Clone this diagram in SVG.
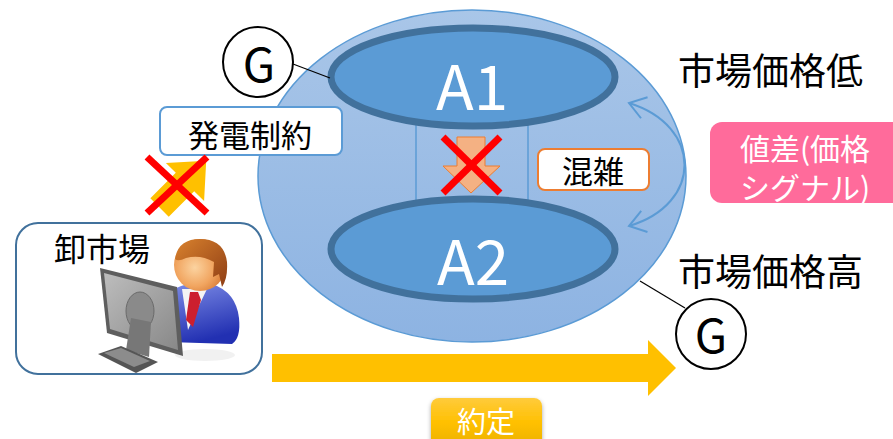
<svg xmlns="http://www.w3.org/2000/svg" width="893" height="439" viewBox="0 0 893 439">
  <style>
    text { font-family: "Noto Sans CJK JP", "Noto Sans", sans-serif; }
    .jp { fill: #000000; }
    .white { fill: #ffffff; }
    .area { fill: #5b9bd5; stroke: #41719c; stroke-width: 7; }
    .gen { fill: #ffffff; stroke: #000000; stroke-width: 2; }
    .wire { stroke: #000000; stroke-width: 1.2; fill: none; }
    .cross { stroke: #ff0000; stroke-width: 7; stroke-linecap: butt; }
    .tie { stroke: #5b9bd5; stroke-width: 1.5; }
  </style>
  <defs>
    <linearGradient id="gridFill" x1="0" y1="0" x2="0" y2="1">
      <stop offset="0" stop-color="#a9c6e8"/>
      <stop offset="1" stop-color="#8db3e2"/>
    </linearGradient>
    <linearGradient id="goldFill" x1="0" y1="0" x2="0" y2="1">
      <stop offset="0" stop-color="#ffcb3c"/>
      <stop offset="0.5" stop-color="#ffc000"/>
      <stop offset="1" stop-color="#eab000"/>
    </linearGradient>
    <radialGradient id="faceFill" cx="0.4" cy="0.55" r="0.6">
      <stop offset="0" stop-color="#fbd3a0"/>
      <stop offset="0.6" stop-color="#f1a560"/>
      <stop offset="1" stop-color="#d77a34"/>
    </radialGradient>
    <linearGradient id="hairFill" x1="0" y1="0" x2="1" y2="1">
      <stop offset="0" stop-color="#d9822e"/>
      <stop offset="1" stop-color="#8e3d14"/>
    </linearGradient>
    <linearGradient id="suitFill" x1="0" y1="0" x2="0.3" y2="1">
      <stop offset="0" stop-color="#7d8ce6"/>
      <stop offset="1" stop-color="#2230b2"/>
    </linearGradient>
    <linearGradient id="screenFill" x1="0" y1="0" x2="1" y2="1">
      <stop offset="0" stop-color="#bdbdbd"/>
      <stop offset="1" stop-color="#888888"/>
    </linearGradient>
    <filter id="softShadow" x="-20%" y="-20%" width="140%" height="160%">
      <feDropShadow dx="0" dy="2" stdDeviation="2" flood-color="#000000" flood-opacity="0.35"/>
    </filter>
    <marker id="chevron" viewBox="-20 -15 22 30" refX="0" refY="0" markerWidth="22" markerHeight="30" markerUnits="userSpaceOnUse" orient="auto-start-reverse">
      <path d="M -16,-11 L 0,0 L -16,11" fill="none" stroke="#5b9bd5" stroke-width="2"/>
    </marker>
  </defs>

  <!-- grid region with the two price areas -->
  <g id="grid">
    <ellipse cx="472" cy="176" rx="214" ry="166" fill="url(#gridFill)" stroke="#5b9bd5" stroke-width="1.5"/>
    <line class="tie" x1="416" y1="125" x2="416" y2="205"/>
    <line class="tie" x1="528" y1="125" x2="528" y2="205"/>
  </g>

  <g id="area-a1">
    <ellipse class="area" cx="473" cy="77" rx="142" ry="49"/>
    <text class="white" x="472" y="110" font-size="62" text-anchor="middle">A1</text>
  </g>

  <g id="area-a2">
    <ellipse class="area" cx="473" cy="249" rx="142" ry="50"/>
    <text class="white" x="473" y="285" font-size="62" text-anchor="middle">A2</text>
  </g>

  <!-- blocked flow from A1 to A2 -->
  <g id="blocked-flow">
    <polygon points="457,137 485,137 485,166 500,166 471,193 443,166 457,166" fill="#f4b183" stroke="#ed7d31" stroke-width="1"/>
    <line class="cross" x1="443" y1="137" x2="500" y2="193"/>
    <line class="cross" x1="500" y1="137" x2="443" y2="193"/>
  </g>

  <g id="congestion">
    <rect x="538" y="149" width="111" height="41" rx="7" fill="#ffffff" stroke="#ed7d31" stroke-width="2"/>
    <text class="jp" x="593" y="183" font-size="31" text-anchor="middle">混雑</text>
  </g>

  <g id="gen-top">
    <circle class="gen" cx="258" cy="62" r="35"/>
    <text class="jp" x="259" y="82" font-size="47" text-anchor="middle">G</text>
  </g>

  <g id="gen-bottom">
    <circle class="gen" cx="711" cy="334" r="35"/>
    <text class="jp" x="711" y="353" font-size="47" text-anchor="middle">G</text>
  </g>

  <g id="label-low">
    <text class="jp" x="678" y="85" font-size="37">市場価格低</text>
  </g>

  <g id="label-high">
    <text class="jp" x="678" y="286" font-size="37">市場価格高</text>
  </g>

  <g id="price-signal">
    <rect x="710" y="122" width="200" height="81" rx="12" fill="#ff6b9b"/>
    <text class="white" x="805" y="160" font-size="30" text-anchor="middle">値差(価格</text>
    <text class="white" x="805" y="199" font-size="30" text-anchor="middle">シグナル)</text>
  </g>

  <g id="gen-constraint">
    <rect x="160" y="107" width="182" height="48" rx="7" fill="#ffffff" stroke="#5b9bd5" stroke-width="2"/>
    <text class="jp" x="250" y="147" font-size="31" text-anchor="middle">発電制約</text>
  </g>

  <!-- blocked dispatch from the market -->
  <g id="blocked-dispatch">
    <g transform="translate(185,182) rotate(-45)">
      <polygon points="-36,-13 0,-13 0,-27 30,0 0,27 0,13 -36,13" fill="#ffc000"/>
    </g>
    <line class="cross" x1="147" y1="157" x2="207" y2="213"/>
    <line class="cross" x1="207" y1="157" x2="147" y2="213"/>
  </g>

  <g id="wholesale-market">
    <rect x="16" y="223" width="246" height="151" rx="22" fill="#ffffff" stroke="#41719c" stroke-width="2"/>
    <text class="jp" x="54" y="261" font-size="32">卸市場</text>
    <!-- trader at a monitor -->
    <g id="trader">
      <ellipse cx="205" cy="355" rx="30" ry="6" fill="#f1f1f1"/>
      <path d="M 168,342 L 168,302 Q 170,286 190,284 L 212,284 Q 236,292 239,318 Q 241,338 232,344 Z" fill="url(#suitFill)"/>
      <polygon points="182,289 207,289 196,312 188,330" fill="#f4f4f4"/>
      <polygon points="190,292 198,292 201,300 193,327 186,320" fill="#cc1f2e"/>
      <circle cx="200" cy="265" r="26" fill="url(#faceFill)"/>
      <path d="M 175,259 Q 178,239 200,239 Q 224,239 227,262 Q 228,278 222,287 L 219,274 L 213,277 L 214,262 Q 200,254 186,258 Q 178,262 175,259 Z" fill="url(#hairFill)"/>
      <polygon points="100,268 177,287 183,356 107,333" fill="#5e5e5e"/>
      <polygon points="104,273 173,291 178,350 110,329" fill="url(#screenFill)"/>
      <ellipse cx="140" cy="311" rx="14" ry="19" fill="#8a8a8a" stroke="#6a6a6a" stroke-width="1"/>
      <polygon points="131,318 151,322 149,357 126,350" fill="#777777"/>
      <polygon points="98,354 121,346 158,362 136,373" fill="#555555"/>
      <polygon points="104,353 121,348 150,361 134,367" fill="#8c8c8c"/>
    </g>
  </g>

  <g id="settlement">
    <rect x="431" y="398" width="111" height="50" rx="8" fill="url(#goldFill)" filter="url(#softShadow)"/>
    <text class="white" x="486" y="433" font-size="29" text-anchor="middle">約定</text>
  </g>

  <!-- connectors -->
  <g id="connectors">
    <line class="wire" x1="293" y1="64" x2="330" y2="78"/>
    <line class="wire" x1="640" y1="281" x2="685" y2="308"/>
    <path d="M 629,103 C 703,126 703,204 629,226" fill="none" stroke="#5b9bd5" stroke-width="2" marker-start="url(#chevron)" marker-end="url(#chevron)"/>
    <polygon points="272,354 648,354 648,340 676,368 648,396 648,382 272,382" fill="#ffc000"/>
  </g>
</svg>
